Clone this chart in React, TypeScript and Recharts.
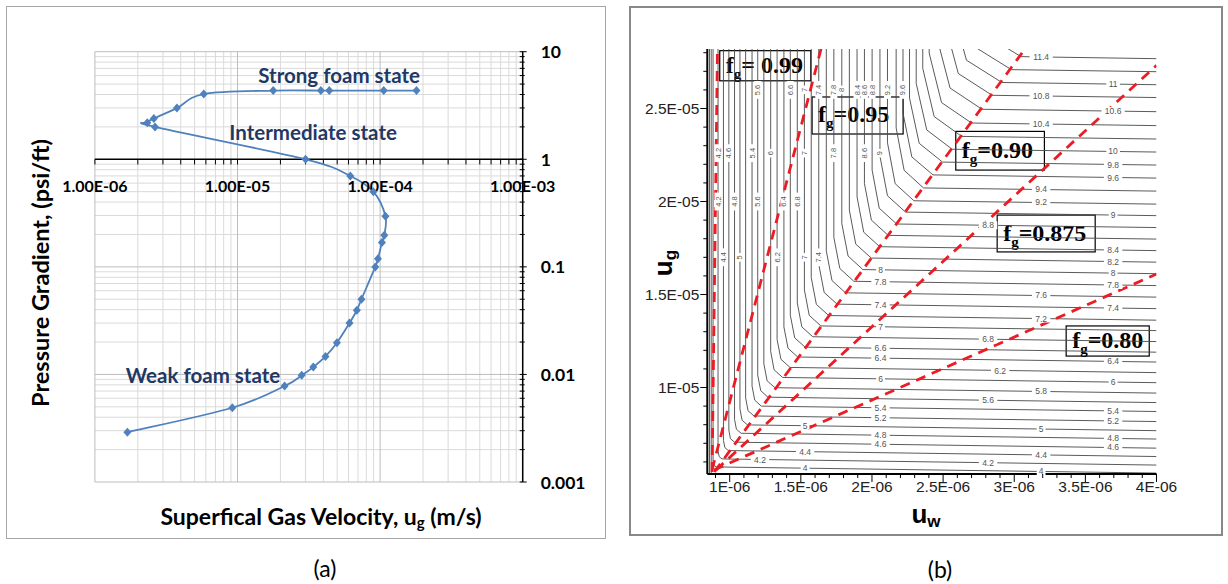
import React from 'react';
import { LineChart, Line, XAxis, YAxis, ReferenceLine, ReferenceDot, ReferenceArea } from 'recharts';

// ---------- panel (a): pressure gradient vs superficial gas velocity ----------
const gasVelocity = [1.8e-4, 1.06e-4, 4.4e-5, 3.84e-5, 1.78e-5, 5.8e-6, 3.76e-6, 2.59e-6, 2.33e-6, 2.64e-6, 3.0e-5, 6.18e-5, 8.97e-5, 1.09e-4, 1.07e-4, 1.03e-4, 9.66e-5, 9.25e-5, 7.4e-5, 6.87e-5, 6.1e-5, 4.98e-5, 4.14e-5, 3.4e-5, 2.82e-5, 2.14e-5, 9.2e-6, 1.69e-6];
const pressureGrad = [4.35, 4.35, 4.35, 4.35, 4.35, 4.04, 2.99, 2.39, 2.19, 2.0, 1.0, 0.7, 0.5, 0.296, 0.197, 0.168, 0.119, 0.0998, 0.05, 0.0395, 0.03, 0.0197, 0.0147, 0.0117, 0.0098, 0.0078, 0.0049, 0.0029];

const velDecades = [1e-6, 1e-5, 1e-4, 1e-3];
const velDecadeLabels = ['1.00E-06', '1.00E-05', '1.00E-04', '1.00E-03'];
const gradDecades = [0.001, 0.01, 0.1, 1, 10];
const gradDecadeLabels = ['0.001', '0.01', '0.1', '1', '10'];
const minorSteps = [2, 3, 4, 5, 6, 7, 8, 9];

const stateLabels = ['Strong foam state', 'Intermediate state', 'Weak foam state'];
const stateX = [5.16e-5, 3.39e-5, 5.73e-6];
const stateY = [6.07, 1.79, 0.0099];

// ---------- panel (b): contour map, u_w in 1E-06, u_g in 1E-05 ----------
const contourLevels = [4.0, 4.2, 4.4, 4.6, 4.8, 5.0, 5.2, 5.4, 5.6, 5.8, 6.0, 6.2, 6.4, 6.6, 6.8, 7.0, 7.2, 7.4, 7.6, 7.8, 8.0, 8.2, 8.4, 8.6, 8.8, 9.0, 9.2, 9.4, 9.6, 9.8, 10.0, 10.2, 10.4, 10.6, 10.8, 11.0, 11.2, 11.4];
// vertical branch (top part of each contour)
const vertX = [0.883, 0.918, 0.956, 0.994, 1.034, 1.072, 1.112, 1.157, 1.197, 1.240, 1.288, 1.333, 1.381, 1.426, 1.475, 1.525, 1.573, 1.626, 1.679, 1.732, 1.788, 1.841, 1.895, 1.947, 2.001, 2.056, 2.109, 2.170, 2.218, 2.264, 2.311, 2.357, 2.402, 2.456, 2.508, 2.561, 2.614, 2.667];
const bendY = [0.605, 0.659, 0.715, 0.771, 0.829, 0.885, 0.944, 1.008, 1.066, 1.128, 1.194, 1.258, 1.325, 1.389, 1.455, 1.525, 1.591, 1.663, 1.735, 1.807, 1.882, 1.954, 2.025, 2.097, 2.169, 2.244, 2.316, 2.396, 2.476, 2.556, 2.635, 2.716, 2.798, 2.883, 2.969, 3.049, 3.128, 3.209];
// middle of the bend
const midX = [0.890, 0.926, 0.966, 1.005, 1.047, 1.087, 1.129, 1.176, 1.218, 1.263, 1.312, 1.360, 1.410, 1.457, 1.507, 1.559, 1.609, 1.664, 1.719, 1.774, 1.832, 1.886, 1.942, 1.996, 2.051, 2.109, 2.163, 2.226, 2.280, 2.332, 2.385, 2.437, 2.489, 2.549, 2.607, 2.664, 2.721, 2.779];
const midY = [0.582, 0.628, 0.677, 0.725, 0.776, 0.824, 0.875, 0.932, 0.983, 1.036, 1.095, 1.152, 1.211, 1.267, 1.326, 1.388, 1.447, 1.511, 1.575, 1.640, 1.707, 1.771, 1.835, 1.900, 1.964, 2.031, 2.096, 2.168, 2.240, 2.313, 2.385, 2.457, 2.532, 2.610, 2.688, 2.760, 2.832, 2.905];
// start of the horizontal branch
const kinkX = [0.904, 0.946, 0.990, 1.034, 1.080, 1.125, 1.171, 1.222, 1.269, 1.318, 1.372, 1.424, 1.478, 1.530, 1.584, 1.641, 1.696, 1.755, 1.814, 1.873, 1.936, 1.995, 2.055, 2.114, 2.174, 2.236, 2.295, 2.362, 2.429, 2.496, 2.564, 2.631, 2.700, 2.773, 2.845, 2.913, 2.980, 3.047];
const kinkY = [0.573, 0.616, 0.661, 0.706, 0.754, 0.799, 0.847, 0.900, 0.948, 0.999, 1.054, 1.108, 1.164, 1.217, 1.273, 1.331, 1.387, 1.448, 1.509, 1.571, 1.634, 1.696, 1.757, 1.818, 1.879, 1.943, 2.004, 2.073, 2.143, 2.212, 2.281, 2.350, 2.422, 2.496, 2.571, 2.640, 2.709, 2.779];
// value where the contour leaves the right edge (u_w = 4E-06)
const edgeY = [0.540, 0.583, 0.629, 0.674, 0.723, 0.768, 0.817, 0.871, 0.919, 0.970, 1.026, 1.080, 1.137, 1.190, 1.247, 1.306, 1.362, 1.424, 1.486, 1.548, 1.612, 1.674, 1.736, 1.798, 1.860, 1.924, 1.986, 2.056, 2.126, 2.196, 2.266, 2.336, 2.408, 2.483, 2.559, 2.628, 2.698, 2.768];
// low contours that run straight down to the bottom axis
const lowContourX = [0.858, 0.870];

const TOP_OUT = 3.3;
const BOTTOM_OUT = 0.4;
const UW_MAX = 4.0;

// contour value labels on the horizontal branches
const labelText = ['11', '10.6', '10', '9.8', '9.6', '9', '8.4', '8.2', '8', '7.8', '7.4', '6.4', '6', '5.4', '5.2', '4.8', '4.6',
  '11.4', '10.8', '10.4', '9.4', '9.2', '7.6', '7.2', '5.8', '5', '4.4', '4',
  '8.8', '6.8', '5.6', '4.2', '6.2',
  '8', '7.8', '7.4', '7', '6.6', '6.4', '6', '5.4', '5.2', '4.8', '4.6',
  '5', '4.4', '4', '4.2'];
const labelX = [3.695, 3.695, 3.695, 3.695, 3.695, 3.695, 3.695, 3.695, 3.695, 3.695, 3.695, 3.695, 3.695, 3.695, 3.695, 3.695, 3.695,
  3.189, 3.189, 3.189, 3.189, 3.189, 3.189, 3.189, 3.189, 3.189, 3.189, 3.189,
  2.816, 2.816, 2.816, 2.816, 2.901,
  2.06, 2.06, 2.06, 2.06, 2.06, 2.06, 2.06, 2.06, 2.06, 2.06, 2.06,
  1.53, 1.53, 1.53, 1.213];
const labelY = [2.632, 2.487, 2.269, 2.199, 2.129, 1.927, 1.739, 1.677, 1.616, 1.551, 1.427, 1.14, 1.03, 0.874, 0.82, 0.726, 0.678,
  2.777, 2.567, 2.417, 2.065, 1.995, 1.495, 1.371, 0.979, 0.777, 0.637, 0.549,
  1.872, 1.259, 0.931, 0.595, 1.09,
  1.633, 1.568, 1.445, 1.326, 1.211, 1.157, 1.047, 0.891, 0.837, 0.743, 0.695,
  0.795, 0.655, 0.566, 0.612];

// contour value labels on the vertical branches (drawn rotated)
const vLabelText = ['5.6', '6.6', '7', '7.4', '7.8', '8', '8.4', '8.6', '8.8', '9.2', '9.6',
  '4.2', '4.6', '5.4', '6', '7', '7.8', '8.6', '9',
  '4.2', '4.8', '5.6', '6.4', '6.8',
  '4.4', '5', '6.2', '7', '7.4'];
const vLabelX = [1.197, 1.426, 1.525, 1.626, 1.732, 1.788, 1.895, 1.947, 2.001, 2.109, 2.218,
  0.918, 0.994, 1.157, 1.288, 1.525, 1.732, 1.947, 2.056,
  0.918, 1.034, 1.197, 1.381, 1.475,
  0.956, 1.072, 1.333, 1.525, 1.626];
const vLabelY = [2.6, 2.6, 2.6, 2.6, 2.6, 2.6, 2.6, 2.6, 2.6, 2.6, 2.6,
  2.26, 2.26, 2.26, 2.26, 2.26, 2.26, 2.26, 2.26,
  2.0, 2.0, 2.0, 2.0, 2.0,
  1.7, 1.7, 1.7, 1.7, 1.7];

// red dashed foam-quality lines
const fgNames = ['0.99', '0.95', '0.90', '0.875', '0.80'];
const fgLowX = [0.876, 0.876, 0.892, 0.904, 0.89];
const fgLowY = [0.546, 0.557, 0.546, 0.557, 0.557];
const fgHighX = [0.914, 1.642, 3.07, 4.0, 4.0];
const fgHighY = [2.82, 2.82, 2.815, 2.732, 1.61];

// boxes with the fg labels
const boxText = ['= 0.99', '=0.95', '=0.90', '=0.875', '=0.80'];
const boxX1 = [0.93, 1.579, 2.589, 2.88, 3.365];
const boxX2 = [1.57, 2.219, 3.212, 3.569, 3.949];
const boxY1 = [2.649, 2.363, 2.169, 1.729, 1.169];
const boxY2 = [2.811, 2.562, 2.377, 1.927, 1.331];

const uwMajor = [1, 1.5, 2, 2.5, 3, 3.5, 4];
const uwMajorLabels = ['1E-06', '1.5E-06', '2E-06', '2.5E-06', '3E-06', '3.5E-06', '4E-06'];
const uwMinor = [0.9, 1.1, 1.2, 1.3, 1.4, 1.6, 1.7, 1.8, 1.9, 2.1, 2.2, 2.3, 2.4, 2.6, 2.7, 2.8, 2.9, 3.1, 3.2, 3.3, 3.4, 3.6, 3.7, 3.8, 3.9];
const ugMajor = [1, 1.5, 2, 2.5];
const ugMajorLabels = ['1E-05', '1.5E-05', '2E-05', '2.5E-05'];
const ugMinor = [0.6, 0.7, 0.8, 0.9, 1.1, 1.2, 1.3, 1.4, 1.6, 1.7, 1.8, 1.9, 2.1, 2.2, 2.3, 2.4, 2.6, 2.7, 2.8];

const BLUE = '#4f81bd';
const NAVY = '#1f3864';
const RED = '#ec1c24';
const CALIBRI = 'Lato, "Open Sans", sans-serif';
const ARIAL = '"Liberation Sans", Arial, sans-serif';
const TIMES = '"Liberation Serif", "Times New Roman", serif';

// Catmull-Rom curve, close to Excel's smoothed line
const smoothCurve = (context: any) => {
  let pts: number[][] = [];
  return {
    areaStart() {},
    areaEnd() {},
    lineStart() { pts = []; },
    point(x: number, y: number) { pts.push([+x, +y]); },
    lineEnd() {
      if (!pts.length) return;
      context.moveTo(pts[0][0], pts[0][1]);
      for (let i = 0; i < pts.length - 1; i++) {
        const p0 = pts[i - 1] || pts[i];
        const p1 = pts[i];
        const p2 = pts[i + 1];
        const p3 = pts[i + 2] || p2;
        context.bezierCurveTo(
          p1[0] + (p2[0] - p0[0]) / 6, p1[1] + (p2[1] - p0[1]) / 6,
          p2[0] - (p3[0] - p1[0]) / 6, p2[1] - (p3[1] - p1[1]) / 6,
          p2[0], p2[1]);
      }
    },
  };
};

const Diamond = (p: any) => {
  if (p.cx == null || p.cy == null) return <g key={p.index} />;
  const { cx, cy } = p;
  return <path key={p.index} d={`M${cx},${cy - 4.5}L${cx + 4},${cy}L${cx},${cy + 4.5}L${cx - 4},${cy}Z`} fill={BLUE} />;
};

const near = (a: number, b: number) => Math.abs(a - b) < 1e-9 * Math.max(1, Math.abs(b));

const GradTick = (p: any) => {
  const { x, y, payload } = p;
  const i = gradDecades.findIndex(v => Math.abs(Math.log10(v) - Math.log10(payload.value)) < 1e-6);
  return (
    <g>
      <line x1={x - 3} x2={x + (i >= 0 ? 4 : 2)} y1={y} y2={y} stroke="#000" strokeWidth={1} />
      {i >= 0 && (
        <text x={x + 18} y={y} dominantBaseline="central" fontFamily={CALIBRI} fontWeight={700} fontSize={17.5} fill="#000">
          {gradDecadeLabels[i]}
        </text>
      )}
    </g>
  );
};

const UwTick = (p: any) => {
  const { x, y, payload } = p;
  const i = uwMajor.findIndex(v => near(v, payload.value));
  return (
    <g>
      <line x1={x} x2={x} y1={y} y2={y + (i >= 0 ? 8 : 4)} stroke="#000" strokeWidth={1} />
      {i >= 0 && (
        <text x={x} y={y + 12} textAnchor="middle" dominantBaseline="central" fontFamily={ARIAL} fontSize={15.5} fill="#222">
          {uwMajorLabels[i]}
        </text>
      )}
    </g>
  );
};

const UgTick = (p: any) => {
  const { x, y, payload } = p;
  const i = ugMajor.findIndex(v => near(v, payload.value));
  return (
    <g>
      <line x1={x} x2={x - (i >= 0 ? 7 : 4)} y1={y} y2={y} stroke="#000" strokeWidth={1} />
      {i >= 0 && (
        <text x={x - 8} y={y} textAnchor="end" dominantBaseline="central" fontFamily={ARIAL} fontSize={15.5} fill="#222">
          {ugMajorLabels[i]}
        </text>
      )}
    </g>
  );
};

const PanelA = () => {
  const curve = gasVelocity.map((x, i) => ({ x, y: pressureGrad[i] }));
  const velMinor = velDecades.slice(0, 3).flatMap(d => minorSteps.map(m => m * d));
  const gradMinor = gradDecades.slice(0, 4).flatMap(d => minorSteps.map(m => m * d));
  const gradTicks = [...gradDecades, ...gradMinor].sort((a, b) => a - b);
  const axisTicks = [...velDecades, ...velMinor];
  return (
    <LineChart width={605} height={540} margin={{ top: 51.7, right: 22.3, bottom: 58, left: 94.9 }}>
      <XAxis type="number" dataKey="x" scale="log" domain={[1e-6, 1e-3]} allowDataOverflow hide />
      <YAxis type="number" orientation="right" scale="log" domain={[0.001, 10]} allowDataOverflow width={60}
        ticks={gradTicks} interval={0} tickSize={0} tickMargin={0} tickLine={false}
        axisLine={{ stroke: '#000', strokeWidth: 1.5 }} tick={<GradTick />} />
      {velMinor.map(v => <ReferenceLine key={'vx' + v} x={v} stroke="#dadada" strokeWidth={1} />)}
      {gradMinor.map(v => <ReferenceLine key={'gy' + v} y={v} stroke="#dadada" strokeWidth={1} />)}
      {velDecades.map(v => <ReferenceLine key={'VX' + v} x={v} stroke="#bdbdbd" strokeWidth={1} />)}
      {gradDecades.filter(v => v !== 1).map(v => <ReferenceLine key={'GY' + v} y={v} stroke="#bdbdbd" strokeWidth={1} />)}
      <ReferenceLine y={1} stroke="#000" strokeWidth={1.5} />
      {axisTicks.map(v => (
        <ReferenceLine key={'t' + v} segment={[{ x: v, y: 1 }, { x: v, y: 0.895 }]} stroke="#000" strokeWidth={1} />
      ))}
      {velDecades.map((v, i) => (
        <ReferenceDot key={'lx' + v} x={v} y={1} r={0}
          shape={(p: any) => (
            <text x={p.cx} y={p.cy + 26} textAnchor="middle" dominantBaseline="central" fontFamily={CALIBRI} fontWeight={700} fontSize={16} fill="#000">
              {velDecadeLabels[i]}
            </text>
          )} />
      ))}
      <Line data={curve} dataKey="y" type={smoothCurve as any} stroke={BLUE} strokeWidth={1.8} dot={Diamond} activeDot={false} isAnimationActive={false} />
      {stateLabels.map((t, i) => (
        <ReferenceDot key={t} x={stateX[i]} y={stateY[i]} r={0}
          shape={(p: any) => (
            <text x={p.cx} y={p.cy} textAnchor="middle" dominantBaseline="central" fontFamily={CALIBRI} fontWeight={700} fontSize={20.5} fill={NAVY}>
              {t}
            </text>
          )} />
      ))}
    </LineChart>
  );
};

const PanelB = () => {
  const contours = contourLevels.map((lv, i) => ({
    lv,
    pts: [
      { x: vertX[i], y: TOP_OUT },
      { x: vertX[i], y: bendY[i] },
      { x: midX[i], y: midY[i] },
      { x: kinkX[i], y: kinkY[i] },
      { x: UW_MAX, y: edgeY[i] },
    ],
  }));
  const uwTicks = [...uwMajor, ...uwMinor].sort((a, b) => a - b);
  const ugTicks = [...ugMajor, ...ugMinor].sort((a, b) => a - b);
  return (
    <LineChart width={598} height={584} margin={{ top: 49, right: 71.5, bottom: 80, left: 17.3 }}>
      <XAxis type="number" dataKey="x" domain={[0.8425, 4]} allowDataOverflow ticks={uwTicks} interval={0}
        tickSize={0} tickMargin={0} tickLine={false} height={30} axisLine={{ stroke: '#000', strokeWidth: 2 }} tick={<UwTick />} />
      <YAxis type="number" domain={[0.535, 2.82]} allowDataOverflow ticks={ugTicks} interval={0} width={60}
        tickSize={0} tickMargin={0} tickLine={false} axisLine={{ stroke: '#000', strokeWidth: 2 }} tick={<UgTick />} />
      {contours.map(c => (
        <Line key={'c' + c.lv} data={c.pts} dataKey="y" type="linear" stroke="#474747" strokeWidth={0.9}
          dot={false} activeDot={false} isAnimationActive={false} />
      ))}
      {lowContourX.map(x => (
        <Line key={'low' + x} data={[{ x, y: TOP_OUT }, { x, y: BOTTOM_OUT }]} dataKey="y" type="linear" stroke="#474747"
          strokeWidth={0.9} dot={false} activeDot={false} isAnimationActive={false} />
      ))}
      {labelText.map((t, i) => (
        <ReferenceDot key={'lab' + i} x={labelX[i]} y={labelY[i]} r={0}
          shape={(p: any) => (
            <g>
              <rect x={p.cx - t.length * 2.4 - 2} y={p.cy - 4} width={t.length * 4.8 + 4} height={8} fill="#fff" />
              <text x={p.cx} y={p.cy} textAnchor="middle" dominantBaseline="central" fontFamily={ARIAL} fontSize={8.5} fill="#555">{t}</text>
            </g>
          )} />
      ))}
      {vLabelText.map((t, i) => (
        <ReferenceDot key={'vlab' + i} x={vLabelX[i]} y={vLabelY[i]} r={0}
          shape={(p: any) => (
            <g transform={`translate(${p.cx},${p.cy}) rotate(-90)`}>
              <rect x={-t.length * 2.3 - 2} y={-3.5} width={t.length * 4.6 + 4} height={7} fill="#fff" />
              <text x={0} y={0} textAnchor="middle" dominantBaseline="central" fontFamily={ARIAL} fontSize={7.5} fill="#555">{t}</text>
            </g>
          )} />
      ))}
      {fgNames.map((n, i) => (
        <Line key={'fg' + n} data={[{ x: fgLowX[i], y: fgLowY[i] }, { x: fgHighX[i], y: fgHighY[i] }]} dataKey="y"
          type="linear" stroke={RED} strokeWidth={2.8} strokeDasharray="10 7" dot={false} activeDot={false} isAnimationActive={false} />
      ))}
      {boxText.map((t, i) => (
        <ReferenceArea key={'box' + i} x1={boxX1[i]} x2={boxX2[i]} y1={boxY1[i]} y2={boxY2[i]}
          shape={(p: any) => (
            <g>
              <rect x={p.x} y={p.y} width={p.width} height={p.height} fill="#fff" stroke="#000" strokeWidth={1.2} />
              <text x={p.x + 6} y={p.y + p.height / 2 + 7} fontFamily={TIMES} fontWeight={700} fontSize={24} fill="#000">
                f<tspan dy={6} fontSize={15}>g</tspan><tspan dy={-6}>{t}</tspan>
              </text>
            </g>
          )} />
      ))}
    </LineChart>
  );
};

export default function App() {
  return (
    <div style={{ position: 'absolute', left: 0, top: 0, width: 1228, height: 584, background: '#fff', overflow: 'hidden' }}>
      <div style={{ position: 'absolute', left: 6, top: 6, width: 600, height: 533, border: '1px solid #a6a6a6', boxSizing: 'border-box' }} />
      <div style={{ position: 'absolute', left: 629, top: 6, width: 594, height: 530, border: '2px solid #888', boxSizing: 'border-box' }} />
      <div style={{ position: 'absolute', left: 0, top: 0 }}>
        <PanelA />
      </div>
      <div style={{ position: 'absolute', left: 630, top: 0 }}>
        <PanelB />
      </div>
      <svg width={1228} height={584} style={{ position: 'absolute', left: 0, top: 0, pointerEvents: 'none' }}>
        <text transform="translate(40,273) rotate(-90)" textAnchor="middle" dominantBaseline="central" fontFamily={CALIBRI} fontWeight={700} fontSize={23.5} fill="#000">
          Pressure Gradient, (psi/ft)
        </text>
        <text x={321} y={516} textAnchor="middle" dominantBaseline="central" fontFamily={CALIBRI} fontWeight={700} fontSize={23} fill="#000">
          Superfical Gas Velocity, u<tspan dy={6} fontSize={15}>g</tspan><tspan dy={-6}> (m/s)</tspan>
        </text>
        <text x={325} y={568} textAnchor="middle" dominantBaseline="central" fontFamily={CALIBRI} fontSize={23} fill="#000">(a)</text>
        <text x={940} y={569} textAnchor="middle" dominantBaseline="central" fontFamily={CALIBRI} fontSize={23} fill="#000">(b)</text>
        <text transform="translate(663,263) rotate(-90)" textAnchor="middle" dominantBaseline="central" fontFamily={ARIAL} fontWeight={700} fontSize={26} fill="#000">
          u<tspan dy={7} fontSize={17}>g</tspan>
        </text>
        <text x={926} y={514} textAnchor="middle" dominantBaseline="central" fontFamily={ARIAL} fontWeight={700} fontSize={26} fill="#000">
          u<tspan dy={7} fontSize={17}>w</tspan>
        </text>
      </svg>
    </div>
  );
}
